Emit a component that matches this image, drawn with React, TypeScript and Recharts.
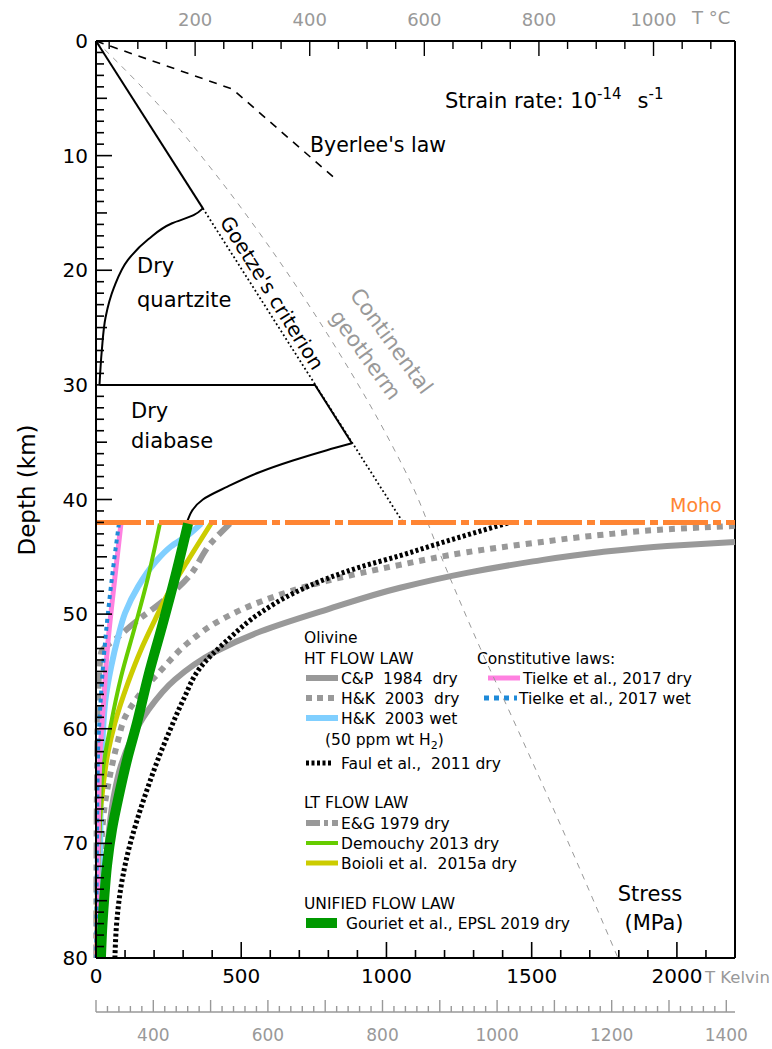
import React from 'react';
import { ComposedChart, Line, XAxis, YAxis, ReferenceLine } from 'recharts';

const FONT = '"DejaVu Sans", "Liberation Sans", sans-serif';
const GREY = '#999999';

// ---------- axes ----------
const stressTicks = Array.from({ length: 23 }, (_, i) => i * 100); // MPa
const stressLabels = [0, 500, 1000, 1500, 2000];
const depthTicks = Array.from({ length: 81 }, (_, i) => i); // km
const tempTicks = Array.from({ length: 22 }, (_, i) => 50 + i * 50); // deg C
const tempLabels = [200, 400, 600, 800, 1000];
const kelvinTicks = Array.from({ length: 56 }, (_, i) => 300 + i * 20); // K
const kelvinLabels = [400, 600, 800, 1000, 1200, 1400];

// ---------- crust (stress MPa, depth km) ----------
const byerlee = [
  { s: 0, d: 0 },
  { s: 470, d: 4.2 },
  { s: 823, d: 12 },
];
const brittleQuartz = [
  { s: 0, d: 0 },
  { s: 368, d: 14.6 },
];
const ductileQuartz = [
  { s: 368, d: 14.6 },
  { s: 336, d: 15.2 },
  { s: 262, d: 15.9 },
  { s: 180, d: 17.3 },
  { s: 110, d: 19.1 },
  { s: 62, d: 21.5 },
  { s: 33, d: 24.1 },
  { s: 20, d: 27 },
  { s: 12, d: 30 },
];
const brittleDiabase = [
  { s: 12, d: 30 },
  { s: 754, d: 30 },
  { s: 881, d: 35.1 },
];
const ductileDiabase = [
  { s: 881, d: 35.1 },
  { s: 795, d: 35.7 },
  { s: 678, d: 36.6 },
  { s: 565, d: 37.6 },
  { s: 451, d: 38.9 },
  { s: 368, d: 40.0 },
  { s: 313, d: 42.0 },
];
const goetze = [
  { s: 368, d: 14.6 },
  { s: 1057, d: 42 },
];
// geotherm: temperature (deg C) vs depth
const geotherm = [
  { t: 27, d: 0 },
  { t: 133, d: 5.4 },
  { t: 226, d: 11 },
  { t: 313, d: 16.8 },
  { t: 430, d: 25.5 },
  { t: 545, d: 35.4 },
  { t: 580, d: 38.9 },
  { t: 627, d: 44.7 },
  { t: 697, d: 52.9 },
  { t: 755, d: 59.2 },
  { t: 872, d: 72.3 },
  { t: 938, d: 80 },
];
const mohoDepth = 42;
const moho = [
  { s: 0, d: mohoDepth },
  { s: 2200, d: mohoDepth },
];

// ---------- olivine mantle (stress MPa, depth km) ----------
const cp1984 = [
  { s: 2200, d: 43.7 },
  { s: 1966, d: 44.05 },
  { s: 1735, d: 44.6 },
  { s: 1505, d: 45.4 },
  { s: 1277, d: 46.4 },
  { s: 1047, d: 47.7 },
  { s: 795, d: 49.6 },
  { s: 568, d: 51.5 },
  { s: 410, d: 53.3 },
  { s: 272, d: 55.7 },
  { s: 179, d: 58.4 },
  { s: 120, d: 61.0 },
  { s: 86, d: 63.2 },
  { s: 59, d: 66.2 },
  { s: 38, d: 70.6 },
  { s: 24, d: 74.9 },
  { s: 17, d: 80 },
];
const hk2003dry = [
  { s: 2200, d: 42.3 },
  { s: 1966, d: 42.6 },
  { s: 1735, d: 43.1 },
  { s: 1505, d: 43.8 },
  { s: 1277, d: 44.6 },
  { s: 1047, d: 45.7 },
  { s: 795, d: 47.1 },
  { s: 568, d: 48.9 },
  { s: 430, d: 50.5 },
  { s: 317, d: 52.5 },
  { s: 224, d: 54.9 },
  { s: 145, d: 57.2 },
  { s: 100, d: 59.0 },
  { s: 76, d: 61.0 },
  { s: 52, d: 63.6 },
  { s: 31, d: 66.5 },
  { s: 17, d: 70.6 },
  { s: 10, d: 74.9 },
  { s: 7, d: 80 },
];
const hk2003wet = [
  { s: 362, d: 42.1 },
  { s: 317, d: 43.1 },
  { s: 258, d: 44.1 },
  { s: 203, d: 45.5 },
  { s: 145, d: 47.6 },
  { s: 100, d: 49.9 },
  { s: 76, d: 52.0 },
  { s: 52, d: 54.6 },
  { s: 34, d: 57.2 },
  { s: 21, d: 61.9 },
  { s: 14, d: 70.6 },
  { s: 10, d: 80 },
];
const faul2011 = [
  { s: 1418, d: 42.05 },
  { s: 1277, d: 43.1 },
  { s: 1160, d: 44.0 },
  { s: 1047, d: 44.9 },
  { s: 909, d: 45.9 },
  { s: 795, d: 46.9 },
  { s: 678, d: 48.2 },
  { s: 565, d: 49.9 },
  { s: 451, d: 52.3 },
  { s: 358, d: 54.7 },
  { s: 300, d: 57.5 },
  { s: 255, d: 60.1 },
  { s: 213, d: 62.7 },
  { s: 176, d: 65.3 },
  { s: 141, d: 68.0 },
  { s: 110, d: 70.8 },
  { s: 86, d: 73.8 },
  { s: 72, d: 76.7 },
  { s: 65, d: 80 },
];
const tielkeDry = [
  { s: 86, d: 42.1 },
  { s: 65, d: 46.8 },
  { s: 41, d: 52.5 },
  { s: 24, d: 58.4 },
  { s: 14, d: 62.1 },
  { s: 7, d: 70.8 },
  { s: 3, d: 80 },
];
const tielkeWet = [
  { s: 79, d: 42.1 },
  { s: 55, d: 46.8 },
  { s: 31, d: 52.5 },
  { s: 14, d: 58.4 },
  { s: 7, d: 62.1 },
  { s: 3, d: 70.8 },
  { s: 1, d: 80 },
];
const eg1979 = [
  { s: 461, d: 42.1 },
  { s: 396, d: 43.8 },
  { s: 317, d: 46.8 },
  { s: 224, d: 49.0 },
  { s: 145, d: 50.5 },
  { s: 76, d: 52.0 },
  { s: 17, d: 53.4 },
  { s: 7, d: 57.5 },
  { s: 3, d: 66.2 },
  { s: 1, d: 80 },
];
const demouchy2013 = [
  { s: 220, d: 42.1 },
  { s: 179, d: 46.8 },
  { s: 134, d: 51.1 },
  { s: 86, d: 55.5 },
  { s: 52, d: 59.5 },
  { s: 24, d: 63.6 },
  { s: 10, d: 70.6 },
  { s: 3, d: 80 },
];
const boioli2015 = [
  { s: 396, d: 42.1 },
  { s: 317, d: 45.3 },
  { s: 248, d: 48.2 },
  { s: 203, d: 50.5 },
  { s: 155, d: 53.1 },
  { s: 110, d: 56.0 },
  { s: 65, d: 59.5 },
  { s: 41, d: 62.1 },
  { s: 24, d: 65.1 },
  { s: 7, d: 70.6 },
  { s: 3, d: 80 },
];
const gouriet2019 = [
  { s: 317, d: 42.1 },
  { s: 272, d: 46.8 },
  { s: 227, d: 51.1 },
  { s: 179, d: 55.5 },
  { s: 141, d: 59.5 },
  { s: 107, d: 62.7 },
  { s: 79, d: 65.8 },
  { s: 55, d: 68.8 },
  { s: 38, d: 71.9 },
  { s: 28, d: 74.9 },
  { s: 21, d: 77.6 },
  { s: 17, d: 80 },
];

// ---------- tick renderers ----------
const DepthTick = (props: any) => {
  const { x, y, payload } = props;
  const v = payload.value;
  const len = v % 10 === 0 ? 16 : v % 5 === 0 ? 11 : 8;
  return (
    <g>
      <line x1={x} y1={y} x2={x + len} y2={y} stroke="#000" strokeWidth={1.6} />
      {v % 10 === 0 && (
        <text x={x - 8} y={y + 7} textAnchor="end" fontSize={20} fontFamily={FONT} fill="#000">
          {v}
        </text>
      )}
    </g>
  );
};
const StressTick = (props: any) => {
  const { x, y, payload } = props;
  const v = payload.value;
  const major = v % 500 === 0;
  return (
    <g>
      <line x1={x} y1={y} x2={x} y2={y - (major ? 16 : 8)} stroke="#000" strokeWidth={1.6} />
      {stressLabels.includes(v) && (
        <text x={x} y={y + 25} textAnchor="middle" fontSize={20} fontFamily={FONT} fill="#000">
          {v}
        </text>
      )}
    </g>
  );
};
const TempTick = (props: any) => {
  const { x, y, payload } = props;
  const v = payload.value;
  const major = v % 200 === 0;
  return (
    <g>
      <line x1={x} y1={y} x2={x} y2={y + (major ? 15 : 8)} stroke="#000" strokeWidth={1.4} />
      {tempLabels.includes(v) && (
        <text x={x} y={y - 15} textAnchor="middle" fontSize={18} fontFamily={FONT} fill={GREY}>
          {v}
        </text>
      )}
    </g>
  );
};
const KelvinTick = (props: any) => {
  const { x, y, payload } = props;
  const v = payload.value;
  const major = v % 100 === 0;
  return (
    <g>
      <line x1={x} y1={y} x2={x} y2={y - (major ? 12 : 6)} stroke={GREY} strokeWidth={1.4} />
      {kelvinLabels.includes(v) && (
        <text x={x} y={y + 29} textAnchor="middle" fontSize={17} fontFamily={FONT} fill={GREY}>
          {v}
        </text>
      )}
    </g>
  );
};

// ---------- legend ----------
const LT = (p: { x: number; y: number; children: React.ReactNode; size?: number }) => (
  <text x={p.x} y={p.y} fontSize={p.size ?? 15.5} fontFamily={FONT} fill="#000" style={{ whiteSpace: 'pre' }}>
    {p.children}
  </text>
);
const Sw = (p: { x1: number; x2: number; y: number; color: string; w: number; dash?: string }) => (
  <line x1={p.x1} x2={p.x2} y1={p.y} y2={p.y} stroke={p.color} strokeWidth={p.w} strokeDasharray={p.dash} />
);

const Annotations = () => (
  <g fontFamily={FONT}>
    <text x={445} y={108} fontSize={21} fill="#000">
      Strain rate: 10
      <tspan dy={-9} fontSize={15}>-14</tspan>
      <tspan dx={16} dy={9}>s</tspan>
      <tspan dy={-9} fontSize={15}>-1</tspan>
    </text>
    <text x={310} y={152} fontSize={20.5} fill="#000">Byerlee's law</text>
    <text x={137} y={273} fontSize={21} fill="#000">Dry</text>
    <text x={137} y={307} fontSize={21} fill="#000">quartzite</text>
    <text x={131} y={418} fontSize={21} fill="#000">Dry</text>
    <text x={131} y={448} fontSize={21} fill="#000">diabase</text>
    <g transform="translate(272,293) rotate(58)">
      <text x={0} y={7} textAnchor="middle" fontSize={20} fill="#000">Goetze's criterion</text>
    </g>
    <g transform="translate(379,350) rotate(54)">
      <text x={0} y={-8} textAnchor="middle" fontSize={21.5} fill={GREY}>Continental</text>
      <text x={-4} y={21} textAnchor="middle" fontSize={21.5} fill={GREY}>geotherm</text>
    </g>
    <text x={670} y={512} fontSize={19} fill="#FF8533">Moho</text>
    <text x={650} y={901} textAnchor="middle" fontSize={21} fill="#000">Stress</text>
    <text x={654} y={930} textAnchor="middle" fontSize={21} fill="#000">(MPa)</text>
    <text x={705} y={983} fontSize={16.5} fill={GREY}>T Kelvin</text>
    <text x={692} y={24} fontSize={18} fill={GREY}>T °C</text>
    <text transform="translate(35,490) rotate(-90)" textAnchor="middle" fontSize={23} fill="#000">Depth (km)</text>

    {/* legend */}
    <LT x={304} y={643}>Olivine</LT>
    <LT x={304} y={664}>HT FLOW LAW</LT>
    <Sw x1={306} x2={338} y={678} color={GREY} w={6} />
    <LT x={341} y={684}>C&amp;P  1984  dry</LT>
    <Sw x1={306} x2={338} y={698} color={GREY} w={6} dash="6 5" />
    <LT x={341} y={704}>H&amp;K  2003  dry</LT>
    <Sw x1={306} x2={338} y={718} color="#80CFFF" w={6} />
    <LT x={341} y={724}>H&amp;K  2003 wet</LT>
    <text x={325} y={745} fontSize={15.5} fill="#000">
      (50 ppm wt H<tspan dy={4} fontSize={11}>2</tspan>
      <tspan dy={-4}>)</tspan>
    </text>
    <Sw x1={306} x2={333} y={763} color="#000" w={5} dash="3 2.5" />
    <LT x={341} y={769}>Faul et al.,  2011 dry</LT>
    <LT x={304} y={808}>LT FLOW LAW</LT>
    <Sw x1={306} x2={338} y={823} color={GREY} w={6} dash="14 4 4 4" />
    <LT x={341} y={829}>E&amp;G 1979 dry</LT>
    <Sw x1={306} x2={338} y={843} color="#66CC00" w={4} />
    <LT x={341} y={849}>Demouchy 2013 dry</LT>
    <Sw x1={306} x2={338} y={863} color="#CCCC00" w={5} />
    <LT x={341} y={869}>Boioli et al.  2015a dry</LT>
    <LT x={304} y={909}>UNIFIED FLOW LAW</LT>
    <Sw x1={306} x2={337} y={923} color="#009900" w={10} />
    <LT x={346} y={929}>Gouriet et al., EPSL 2019 dry</LT>
    <LT x={477} y={664}>Constitutive laws:</LT>
    <Sw x1={488} x2={520} y={678} color="#FF80E0" w={5} />
    <LT x={523} y={684}>Tielke et al., 2017 dry</LT>
    <Sw x1={484} x2={517} y={698} color="#1E8AD8" w={5} dash="5 5" />
    <LT x={519} y={704}>Tielke et al., 2017 wet</LT>
  </g>
);

const L = (p: { data: any[]; color: string; w: number; dash?: string; type?: any; x?: number }) => (
  <Line
    data={p.data}
    dataKey="d"
    xAxisId={p.x ?? 0}
    yAxisId={0}
    type={p.type ?? 'monotoneY'}
    stroke={p.color}
    strokeWidth={p.w}
    strokeDasharray={p.dash}
    dot={false}
    activeDot={false}
    isAnimationActive={false}
    strokeLinecap="butt"
  />
);

export default function App() {
  return (
    <div style={{ position: 'absolute', left: 0, top: 0, background: '#fff' }}>
      <ComposedChart width={772} height={1049} margin={{ top: 0, right: 37, bottom: 0, left: 0 }}>
        <XAxis
          xAxisId={0}
          type="number"
          dataKey="s"
          domain={[0, 2200]}
          ticks={stressTicks}
          interval={0}
          orientation="bottom"
          height={54}
          tickSize={0}
          tickMargin={0}
          tickLine={false}
          tick={<StressTick />}
          axisLine={{ stroke: '#000', strokeWidth: 2 }}
        />
        <XAxis
          xAxisId={1}
          type="number"
          dataKey="k"
          domain={[300, 1415.2]}
          allowDataOverflow
          ticks={kelvinTicks}
          interval={0}
          orientation="bottom"
          height={37}
          tickSize={0}
          tickMargin={0}
          tickLine={false}
          tick={<KelvinTick />}
          axisLine={{ stroke: GREY, strokeWidth: 1.5 }}
        />
        <XAxis
          xAxisId={2}
          type="number"
          dataKey="t"
          domain={[27, 1142.2]}
          allowDataOverflow
          ticks={tempTicks}
          interval={0}
          orientation="top"
          height={41}
          tickSize={0}
          tickMargin={0}
          tickLine={false}
          tick={<TempTick />}
          axisLine={{ stroke: '#000', strokeWidth: 2 }}
        />
        <YAxis
          yAxisId={0}
          type="number"
          domain={[0, 80]}
          reversed
          ticks={depthTicks}
          interval={0}
          width={96}
          tickSize={0}
          tickMargin={0}
          tickLine={false}
          tick={<DepthTick />}
          axisLine={{ stroke: '#000', strokeWidth: 2 }}
        />
        <ReferenceLine xAxisId={0} yAxisId={0} x={2200} stroke="#000" strokeWidth={2} />

        {L({ data: geotherm, color: GREY, w: 1, dash: '6 6', x: 2 })}
        {L({ data: byerlee, color: '#000', w: 1.6, dash: '8 7', type: 'linear' })}
        {L({ data: goetze, color: '#000', w: 1.8, dash: '1.8 2.6', type: 'linear' })}
        {L({ data: brittleQuartz, color: '#000', w: 2, type: 'linear' })}
        {L({ data: ductileQuartz, color: '#000', w: 2 })}
        {L({ data: brittleDiabase, color: '#000', w: 2, type: 'linear' })}
        {L({ data: ductileDiabase, color: '#000', w: 2 })}
        {L({ data: cp1984, color: GREY, w: 6 })}
        {L({ data: hk2003dry, color: GREY, w: 6, dash: '6 6' })}
        {L({ data: faul2011, color: '#000', w: 5, dash: '3 2.5' })}
        {L({ data: eg1979, color: GREY, w: 6, dash: '16 6 6 6' })}
        {L({ data: hk2003wet, color: '#80CFFF', w: 6 })}
        {L({ data: boioli2015, color: '#CCCC00', w: 5 })}
        {L({ data: demouchy2013, color: '#66CC00', w: 4 })}
        {L({ data: tielkeDry, color: '#FF80E0', w: 5 })}
        {L({ data: tielkeWet, color: '#1E8AD8', w: 4, dash: '4 4' })}
        {L({ data: moho, color: '#FF8533', w: 5, dash: '45 5 8 5', type: 'linear' })}
        {L({ data: gouriet2019, color: '#009900', w: 10 })}
        <Annotations />
      </ComposedChart>
    </div>
  );
}
